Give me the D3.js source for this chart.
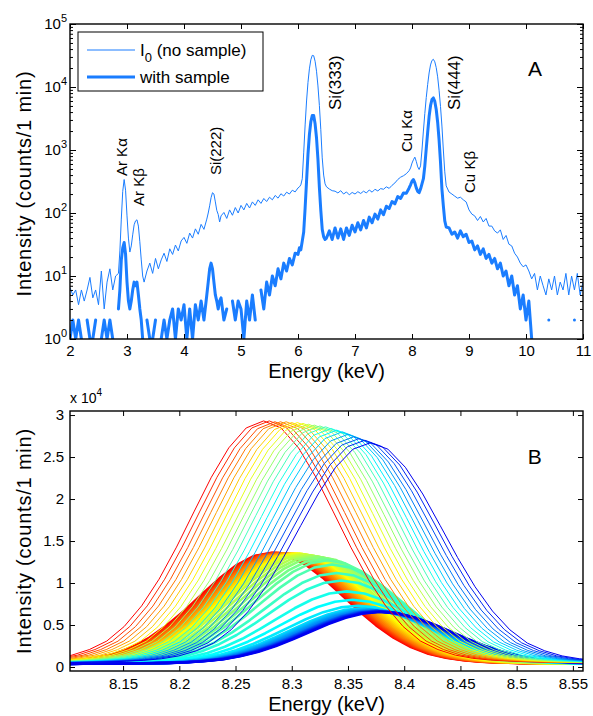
<!DOCTYPE html>
<html>
<head>
<meta charset="utf-8">
<script src="https://cdn.jsdelivr.net/npm/d3@7"></script>
<style>
  body { margin: 0; background: #fff; }
  svg { display: block; font-family: "Liberation Sans", Arial, Helvetica, sans-serif; }
</style>
</head>
<body>
<svg id="main-vis" width="593" height="716"></svg>
<script>
// ---------- panel A : spectra on a log axis ----------
const energyRangeA = [2, 11];
const intensityRangeA = [1, 1e5];
const energyTicksA = [2, 3, 4, 5, 6, 7, 8, 9, 10, 11];
const decadeTicksA = [1, 10, 100, 1000, 10000, 100000];

// [energy keV, counts/1 min]
const noSample = [
  [2.00,6.5],[2.05,5],[2.10,6],[2.15,3.5],[2.20,6],[2.25,4],[2.30,6],[2.35,9.5],[2.40,4.5],[2.45,6],[2.50,3.5],[2.55,12],[2.60,3],[2.65,8],[2.70,13],[2.75,6],[2.80,10],[2.85,11],
  [2.875,25],[2.90,80],[2.925,220],[2.95,340],[2.975,230],[3.00,90],[3.025,40],[3.05,24],[3.075,30],[3.10,45],[3.125,65],[3.15,75],[3.175,78],[3.20,62],[3.225,35],[3.25,18],[3.275,10],[3.30,8],
  [3.35,12],[3.40,16],[3.45,11],[3.50,19],[3.55,13],[3.60,18],[3.65,23],[3.70,17],[3.75,27],[3.80,22],[3.85,31],[3.90,25],[3.95,36],[4.00,41],[4.05,33],[4.10,48],[4.15,40],[4.20,56],[4.25,46],[4.30,66],[4.35,55],[4.40,80],
  [4.425,100],[4.45,130],[4.475,175],[4.50,210],[4.525,200],[4.55,150],[4.575,110],[4.60,95],[4.625,72],[4.65,90],[4.70,102],[4.75,82],[4.80,112],[4.85,92],[4.90,122],[4.95,100],[5.00,132],[5.05,112],[5.10,142],[5.15,120],[5.20,150],[5.25,132],[5.30,162],[5.35,142],[5.40,170],[5.45,152],[5.50,178],[5.55,162],[5.60,190],[5.65,172],[5.70,202],[5.75,186],[5.80,214],[5.85,200],[5.90,230],[5.95,216],[6.00,250],
  [6.025,260],[6.05,280],[6.075,350],[6.10,900],[6.125,2500],[6.15,6000],[6.175,11800],[6.20,19400],[6.225,27000],[6.25,31800],[6.275,31400],[6.30,25600],[6.325,17800],[6.35,10400],[6.375,5100],[6.40,2100],[6.425,750],[6.45,400],[6.475,290],[6.50,260],
  [6.55,240],[6.60,226],[6.65,222],[6.70,208],[6.75,226],[6.80,200],[6.85,216],[6.90,194],[6.95,212],[7.00,200],[7.05,218],[7.10,204],[7.15,222],[7.20,208],[7.25,232],[7.30,214],[7.35,238],[7.40,224],[7.45,244],[7.50,238],[7.55,260],[7.60,246],[7.65,275],[7.70,300],[7.75,340],[7.80,370],[7.85,390],[7.90,420],[7.95,470],
  [7.975,520],[8.00,620],[8.025,700],[8.05,770],[8.075,660],[8.10,540],[8.125,490],[8.15,560],[8.175,1000],[8.20,2000],[8.225,3800],[8.25,6800],[8.275,11000],[8.30,16700],[8.325,22400],[8.35,26400],[8.375,27500],[8.40,25100],[8.425,20300],[8.45,14500],[8.475,8900],[8.50,4900],[8.525,2400],[8.55,1000],[8.575,450],[8.60,270],
  [8.65,215],[8.70,200],[8.75,185],[8.80,172],[8.85,178],[8.90,162],[8.95,150],[9.00,112],[9.05,96],[9.10,90],[9.15,76],[9.20,88],[9.25,72],[9.30,82],[9.35,62],[9.40,62],[9.45,52],[9.50,48],[9.55,54],[9.60,38],[9.65,44],[9.70,32],[9.75,30],[9.80,23],[9.85,20],[9.90,16],[9.95,14],[10.00,15],[10.05,12],[10.10,9],[10.15,11],[10.20,6],[10.25,10],[10.30,7],[10.35,5],[10.40,9],[10.45,6],[10.50,10],[10.55,5],[10.60,8],[10.65,6],[10.70,11],[10.75,5],[10.80,10],[10.85,6],[10.90,11],[10.95,5],[11.00,8]
];

// zeros are empty channels, they leave gaps on the log axis
const withSample = [
  [2.00,1],[2.05,2],[2.10,1],[2.15,2],[2.20,1],[2.25,0],[2.30,2],[2.35,1],[2.40,1],[2.45,2],[2.50,0],[2.55,1],[2.60,2],[2.65,1],[2.70,2],[2.75,1],[2.80,0],[2.85,3],
  [2.875,6],[2.90,18],[2.925,28],[2.95,34],[2.975,22],[3.00,8],[3.025,4],[3.05,3],[3.075,4],[3.10,6],[3.125,8],[3.15,7],[3.175,8],[3.20,5],[3.225,3],[3.25,2],[3.275,1],[3.30,0],
  [3.35,2],[3.40,1],[3.45,1],[3.50,2],[3.55,0],[3.60,1],[3.65,2],[3.70,1],[3.75,2],[3.80,3],[3.85,1],[3.90,3],[3.95,2],[4.00,3.5],[4.05,1],[4.10,3],[4.15,1],[4.20,3.5],[4.25,2],[4.30,4],[4.35,2],[4.40,5],
  [4.425,8],[4.45,13],[4.475,16],[4.50,13],[4.525,8],[4.55,5],[4.575,4],[4.60,3],[4.625,4],[4.65,4.5],[4.70,2],[4.75,3],[4.80,0],[4.85,4],[4.90,2],[4.95,4],[5.00,3],[5.05,1],[5.10,4],[5.15,2],[5.20,5],[5.25,2],[5.30,0],[5.35,6],[5.40,3],[5.45,8],[5.50,5],[5.55,10],[5.60,7],[5.65,13],[5.70,9],[5.75,16],[5.80,12],[5.85,19],[5.90,15],[5.95,23],[6.00,22],
  [6.025,28],[6.05,26],[6.075,36],[6.10,50],[6.125,120],[6.15,320],[6.175,850],[6.20,1750],[6.225,2800],[6.25,3530],[6.275,3520],[6.30,2600],[6.325,1550],[6.35,710],[6.375,255],[6.40,110],[6.425,55],[6.45,42],[6.475,38],[6.50,40],
  [6.55,52],[6.60,38],[6.65,58],[6.70,40],[6.75,56],[6.80,38],[6.85,58],[6.90,44],[6.95,64],[7.00,50],[7.05,70],[7.10,54],[7.15,76],[7.20,58],[7.25,86],[7.30,70],[7.35,96],[7.40,80],[7.45,112],[7.50,94],[7.55,128],[7.60,118],[7.65,152],[7.70,140],[7.75,182],[7.80,170],[7.85,208],[7.90,205],[7.95,250],
  [7.975,280],[8.00,320],[8.025,340],[8.05,300],[8.075,250],[8.10,220],[8.125,210],[8.15,240],[8.175,290],[8.20,350],[8.225,560],[8.25,1050],[8.275,1900],[8.30,3400],[8.325,5050],[8.35,6340],[8.375,6700],[8.40,5900],[8.425,4400],[8.45,2760],[8.475,1450],[8.50,640],[8.525,240],[8.55,130],[8.575,75],[8.60,60],
  [8.65,58],[8.70,46],[8.75,50],[8.80,40],[8.85,52],[8.90,42],[8.95,46],[9.00,34],[9.05,36],[9.10,26],[9.15,30],[9.20,22],[9.25,27],[9.30,19],[9.35,22],[9.40,16],[9.45,19],[9.50,13],[9.55,16],[9.60,10],[9.65,12],[9.70,7],[9.75,10],[9.80,5],[9.85,7],[9.90,3],[9.95,5],[10.00,2],[10.05,4],[10.10,1],[10.15,0],[10.20,0],[10.25,0],[10.30,0],[10.35,0],[10.40,2],[10.45,0],[10.50,0],[10.55,0],[10.60,0],[10.65,0],[10.70,0],[10.75,0],[10.80,0],[10.85,2],[10.90,0],[10.95,0],[11.00,0]
];

// peak labels: text, energy, intensity where the (rotated) text starts, font size
const peakLabels = [
  ["Ar K\u03b1", 2.903, 386, 15],
  ["Ar K\u03b2", 3.21, 129, 15],
  ["Si(222)", 4.553, 400, 15],
  ["Si(333)", 6.658, 4300, 17],
  ["Cu K\u03b1", 7.912, 930, 15],
  ["Si(444)", 8.737, 4300, 17],
  ["Cu K\u03b2", 9.009, 208, 15]
];

// ---------- panel B : Si(444) peak scans ----------
const energyRangeB = [8.1028, 8.559];
const countRangeB = [-476, 30480];
const energyTicksB = [8.15, 8.2, 8.25, 8.3, 8.35, 8.4, 8.45, 8.5, 8.55];
const countTicksB = [0, 5000, 10000, 15000, 20000, 25000, 30000];

// sampled peak profile (offset from peak centre in keV, fraction of peak height)
const profileOffset = [-0.2945,-0.279,-0.2635,-0.248,-0.2325,-0.217,-0.2015,-0.186,-0.1705,-0.155,-0.1395,-0.124,-0.1085,-0.093,-0.0775,-0.062,-0.0465,-0.031,-0.0155,0,
  0.0155,0.031,0.0465,0.062,0.0775,0.093,0.1085,0.124,0.1395,0.155,0.1705,0.186,0.2015,0.217,0.2325,0.248,0.2635,0.279,0.2945];
const profileShape = [0.003,0.004,0.005,0.006,0.008,0.011,0.015,0.022,0.035,0.058,0.093,0.153,0.238,0.348,0.480,0.625,0.768,0.889,0.971,1,
  0.971,0.889,0.768,0.625,0.480,0.348,0.238,0.153,0.093,0.058,0.035,0.022,0.015,0.011,0.008,0.006,0.005,0.004,0.003];

// without sample: thin lines
const thinCenter = [8.275,8.280,8.285,8.290,8.295,8.300,8.305,8.310,8.315,8.320,8.325,8.330,8.335,8.340,8.345,8.350,8.355,8.360,8.365,8.370];
const thinPeak = [29300,29300,29200,29200,29200,29100,29100,29000,28900,28800,28700,28600,28400,28200,28000,27700,27400,27200,27000,26700];
const thinBase = 400;

// with sample: thick lines
const thickCenter = [8.282,8.2835,8.285,8.2865,8.288,8.2895,8.291,8.293,8.295,8.297,8.299,8.301,8.303,8.305,8.307,8.309,
  8.312,8.316,8.320,8.324,8.328,8.332,
  8.336,8.340,8.344,8.349,8.354,8.359,
  8.363,8.365,8.367,8.369,8.371,8.373,8.374,8.375,8.376,8.377,8.378,8.379];
const thickPeak = [13600,13600,13600,13600,13600,13550,13550,13550,13550,13500,13500,13500,13500,13500,13500,13450,
  13400,13300,13200,13100,12900,12700,
  12200,11200,10300,9000,8000,7300,
  7000,6900,6850,6800,6750,6700,6700,6650,6650,6600,6600,6550];
const thickBase = 350;

const lineBlue = "#1a7dff";
const svg = d3.select("#main-vis");
const fontFam = '"Liberation Sans", Arial, Helvetica, sans-serif';

function styleAxis(g, size) {
  g.attr("font-family", fontFam).attr("font-size", size);
  g.select(".domain").remove();
  g.selectAll(".tick line").attr("stroke", "#000");
  g.selectAll(".tick text").attr("fill", "#000");
}

// ================= panel A =================
const boxA = { left: 70, right: 583, top: 24, bottom: 339 };
const xA = d3.scaleLinear().domain(energyRangeA).range([boxA.left, boxA.right]);
const yA = d3.scaleLog().domain(intensityRangeA).range([boxA.bottom, boxA.top]);
const minorA = yA.ticks().filter(v => !decadeTicksA.includes(v));

svg.append("clipPath").attr("id", "clipA").append("rect")
  .attr("x", boxA.left).attr("y", boxA.top)
  .attr("width", boxA.right - boxA.left).attr("height", boxA.bottom - boxA.top);

const lineA = d3.line()
  .defined(d => d[1] > 0)
  .x(d => xA(d[0]))
  .y(d => yA(d[1]));

const plotA = svg.append("g").attr("clip-path", "url(#clipA)");
plotA.append("path").datum(noSample)
  .attr("fill", "none").attr("stroke", lineBlue).attr("stroke-width", 1)
  .attr("stroke-linejoin", "round").attr("d", lineA);
plotA.append("path").datum(withSample)
  .attr("fill", "none").attr("stroke", lineBlue).attr("stroke-width", 3)
  .attr("stroke-linejoin", "round").attr("stroke-linecap", "round").attr("d", lineA);

// ticks all point inwards, like matlab
svg.append("g").attr("transform", `translate(0,${boxA.bottom})`)
  .call(d3.axisBottom(xA).tickValues(energyTicksA).tickSize(-5).tickPadding(6).tickFormat(d3.format("d")))
  .call(g => styleAxis(g, 15));
svg.append("g").attr("transform", `translate(0,${boxA.top})`)
  .call(d3.axisTop(xA).tickValues(energyTicksA).tickSize(-5).tickFormat(""))
  .call(g => styleAxis(g, 15));
[[boxA.left, d3.axisLeft], [boxA.right, d3.axisRight]].forEach(([xPos, ax]) => {
  svg.append("g").attr("transform", `translate(${xPos},0)`)
    .call(ax(yA).tickValues(decadeTicksA).tickSize(-6).tickFormat(""))
    .call(g => styleAxis(g, 15));
  svg.append("g").attr("transform", `translate(${xPos},0)`)
    .call(ax(yA).tickValues(minorA).tickSize(-3).tickFormat(""))
    .call(g => styleAxis(g, 15));
});

// decade labels with superscripts
const decLab = svg.append("g").attr("font-family", fontFam).selectAll("text")
  .data(decadeTicksA).enter().append("text")
  .attr("x", boxA.left - 3)
  .attr("y", d => yA(d) + 5)
  .attr("text-anchor", "end");
decLab.append("tspan").attr("font-size", 15).text("10");
decLab.append("tspan").attr("font-size", 11).attr("dy", -7).text(d => Math.round(Math.log10(d)));

svg.append("rect")
  .attr("x", boxA.left).attr("y", boxA.top)
  .attr("width", boxA.right - boxA.left).attr("height", boxA.bottom - boxA.top)
  .attr("fill", "none").attr("stroke", "#000").attr("stroke-width", 1.4);

// peak annotations
svg.append("g").attr("font-family", fontFam).selectAll("text")
  .data(peakLabels).enter().append("text")
  .attr("transform", d => `translate(${xA(d[1])},${yA(d[2])}) rotate(-90)`)
  .attr("dy", "0.35em")
  .attr("font-size", d => d[3])
  .text(d => d[0]);

svg.append("text")
  .attr("x", xA(10.16)).attr("y", yA(14900))
  .attr("text-anchor", "middle").attr("font-family", fontFam).attr("font-size", 21)
  .text("A");

// legend
const leg = svg.append("g").attr("font-family", fontFam).attr("font-size", 17);
leg.append("rect").attr("x", 78).attr("y", 32).attr("width", 185).attr("height", 59)
  .attr("fill", "#fff").attr("stroke", "#000").attr("stroke-width", 1);
leg.append("line").attr("x1", 87).attr("x2", 135).attr("y1", 50).attr("y2", 50)
  .attr("stroke", lineBlue).attr("stroke-width", 1);
leg.append("line").attr("x1", 87).attr("x2", 135).attr("y1", 77).attr("y2", 77)
  .attr("stroke", lineBlue).attr("stroke-width", 3);
const l1 = leg.append("text").attr("x", 140).attr("y", 56);
l1.append("tspan").text("I");
l1.append("tspan").attr("font-size", 13).attr("dy", 6).text("0");
l1.append("tspan").attr("dy", -6).text(" (no sample)");
leg.append("text").attr("x", 140).attr("y", 83).text("with sample");

svg.append("text")
  .attr("x", (boxA.left + boxA.right) / 2).attr("y", 378)
  .attr("text-anchor", "middle").attr("font-family", fontFam).attr("font-size", 20)
  .text("Energy (keV)");
svg.append("text")
  .attr("transform", `translate(31,${(boxA.top + boxA.bottom) / 2 + 2}) rotate(-90)`)
  .attr("text-anchor", "middle").attr("font-family", fontFam).attr("font-size", 20)
  .attr("letter-spacing", 0.8)
  .text("Intensity (counts/1 min)");

// ================= panel B =================
const boxB = { left: 70, right: 583, top: 411, bottom: 671 };
const xB = d3.scaleLinear().domain(energyRangeB).range([boxB.left, boxB.right]);
const yB = d3.scaleLinear().domain(countRangeB).range([boxB.bottom, boxB.top]);
const jet = d3.scaleLinear().domain([0, 1/3, 2/3, 1])
  .range(["#0000f0", "#00ffff", "#ffff00", "#ff0000"]);

svg.append("clipPath").attr("id", "clipB").append("rect")
  .attr("x", boxB.left).attr("y", boxB.top)
  .attr("width", boxB.right - boxB.left).attr("height", boxB.bottom - boxB.top);

const lineB = d3.line().x(d => xB(d[0])).y(d => yB(d[1]));
const scanPoints = (c, peak, base) =>
  profileOffset.map((o, k) => [c + o, base + (peak - base) * profileShape[k]]);

const plotB = svg.append("g").attr("clip-path", "url(#clipB)");
plotB.selectAll(".thick").data(thickCenter).enter().append("path")
  .attr("fill", "none")
  .attr("stroke", (c, i) => jet(1 - i / (thickCenter.length - 1)))
  .attr("stroke-width", 2.6)
  .attr("stroke-linejoin", "round")
  .attr("d", (c, i) => lineB(scanPoints(c, thickPeak[i], thickBase)));
plotB.selectAll(".thin").data(thinCenter).enter().append("path")
  .attr("fill", "none")
  .attr("stroke", (c, i) => jet(1 - i / (thinCenter.length - 1)))
  .attr("stroke-width", 1)
  .attr("d", (c, i) => lineB(scanPoints(c, thinPeak[i], thinBase)));

svg.append("g").attr("transform", `translate(0,${boxB.bottom})`)
  .call(d3.axisBottom(xB).tickValues(energyTicksB).tickSize(-5).tickPadding(7).tickFormat(d => String(d)))
  .call(g => styleAxis(g, 15));
svg.append("g").attr("transform", `translate(0,${boxB.top})`)
  .call(d3.axisTop(xB).tickValues(energyTicksB).tickSize(-5).tickFormat(""))
  .call(g => styleAxis(g, 15));
svg.append("g").attr("transform", `translate(${boxB.left},0)`)
  .call(d3.axisLeft(yB).tickValues(countTicksB).tickSize(-5).tickPadding(6).tickFormat(d => String(d / 1e4)))
  .call(g => styleAxis(g, 15));
svg.append("g").attr("transform", `translate(${boxB.right},0)`)
  .call(d3.axisRight(yB).tickValues(countTicksB).tickSize(-5).tickFormat(""))
  .call(g => styleAxis(g, 15));

svg.append("rect")
  .attr("x", boxB.left).attr("y", boxB.top)
  .attr("width", boxB.right - boxB.left).attr("height", boxB.bottom - boxB.top)
  .attr("fill", "none").attr("stroke", "#000").attr("stroke-width", 1.4);

const mult = svg.append("text").attr("x", boxB.left).attr("y", 403)
  .attr("font-family", fontFam);
mult.append("tspan").attr("font-size", 14).text("x 10");
mult.append("tspan").attr("font-size", 10).attr("dy", -7).text("4");

svg.append("text")
  .attr("x", xB(8.516)).attr("y", yB(24200))
  .attr("text-anchor", "middle").attr("font-family", fontFam).attr("font-size", 21)
  .text("B");

svg.append("text")
  .attr("x", (boxB.left + boxB.right) / 2).attr("y", 711)
  .attr("text-anchor", "middle").attr("font-family", fontFam).attr("font-size", 20)
  .text("Energy (keV)");
svg.append("text")
  .attr("transform", `translate(31,${(boxB.top + boxB.bottom) / 2}) rotate(-90)`)
  .attr("text-anchor", "middle").attr("font-family", fontFam).attr("font-size", 20)
  .attr("letter-spacing", 0.8)
  .text("Intensity (counts/1 min)");
</script>
</body>
</html>
